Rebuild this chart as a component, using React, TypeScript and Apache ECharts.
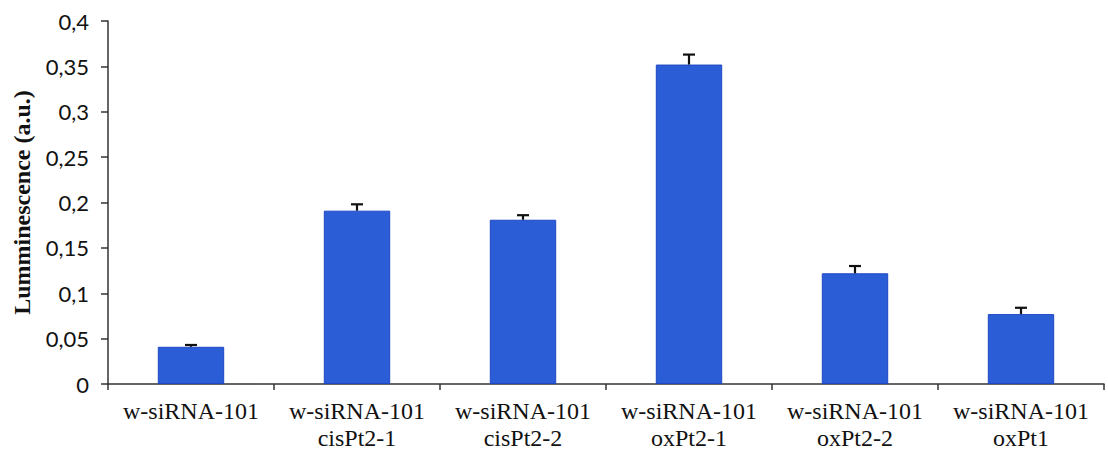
import React, { useEffect, useRef } from "react";
import * as echarts from "echarts";

const categories = [
  "w-siRNA-101",
  "w-siRNA-101\ncisPt2-1",
  "w-siRNA-101\ncisPt2-2",
  "w-siRNA-101\noxPt2-1",
  "w-siRNA-101\noxPt2-2",
  "w-siRNA-101\noxPt1",
];
const values = [0.041, 0.191, 0.181, 0.352, 0.122, 0.077];
const errors = [0.002, 0.007, 0.005, 0.011, 0.008, 0.007];
const yTicks = { min: 0, max: 0.4, interval: 0.05 };
const yName = "Lumminescence (a.u.)";

export default function App() {
  const ref = useRef<HTMLDivElement>(null);
  useEffect(() => {
    if (!ref.current) return;
    const chart = echarts.init(ref.current, null, { renderer: "svg" });
    const errData = values.map((v, i) => [i, v, v + errors[i]]);
    chart.setOption({
      animation: false,
      backgroundColor: "#ffffff",
      grid: { left: 108, top: 21, right: 4, bottom: 75, containLabel: false },
      xAxis: {
        type: "category",
        data: categories,
        axisLine: { lineStyle: { color: "#333", width: 1.5 } },
        axisTick: { show: true, alignWithLabel: false, length: 6, lineStyle: { color: "#333", width: 1.5 } },
        axisLabel: {
          color: "#111",
          fontFamily: "Liberation Serif",
          fontSize: 24,
          lineHeight: 27,
          margin: 13,
          interval: 0,
        },
      },
      yAxis: {
        type: "value",
        min: yTicks.min,
        max: yTicks.max,
        interval: yTicks.interval,
        name: yName,
        nameLocation: "middle",
        nameGap: 74,
        nameTextStyle: {
          fontFamily: "Liberation Serif",
          fontWeight: "bold",
          fontSize: 24,
          color: "#111",
        },
        splitLine: { show: false },
        axisLine: { show: true, lineStyle: { color: "#333", width: 1.5 } },
        axisTick: { show: true, length: 7, lineStyle: { color: "#333", width: 1.5 } },
        axisLabel: {
          color: "#111",
          fontFamily: "Lato",
          fontSize: 22,
          margin: 19,
          formatter: (v: number) => String(Number(v.toFixed(2))).replace(".", ","),
        },
      },
      series: [
        {
          type: "bar",
          data: values,
          barCategoryGap: "60%",
          itemStyle: { color: "#2B5ED6", borderColor: "#1F47C4", borderWidth: 1 },
        },
        {
          type: "custom",
          data: errData,
          z: 10,
          renderItem: (params: any, api: any) => {
            const x = api.value(0);
            const lo = api.coord([x, api.value(1)]);
            const hi = api.coord([x, api.value(2)]);
            const cap = 6;
            const style = { stroke: "#111", lineWidth: 2.2 };
            return {
              type: "group",
              children: [
                { type: "line", shape: { x1: lo[0], y1: lo[1], x2: hi[0], y2: hi[1] }, style },
                { type: "line", shape: { x1: hi[0] - cap, y1: hi[1], x2: hi[0] + cap, y2: hi[1] }, style },
              ],
            };
          },
        },
      ],
    });
    return () => chart.dispose();
  }, []);
  return (
    <div
      ref={ref}
      style={{ position: "fixed", left: 0, top: 0, width: 1108, height: 459, background: "#fff" }}
    />
  );
}
